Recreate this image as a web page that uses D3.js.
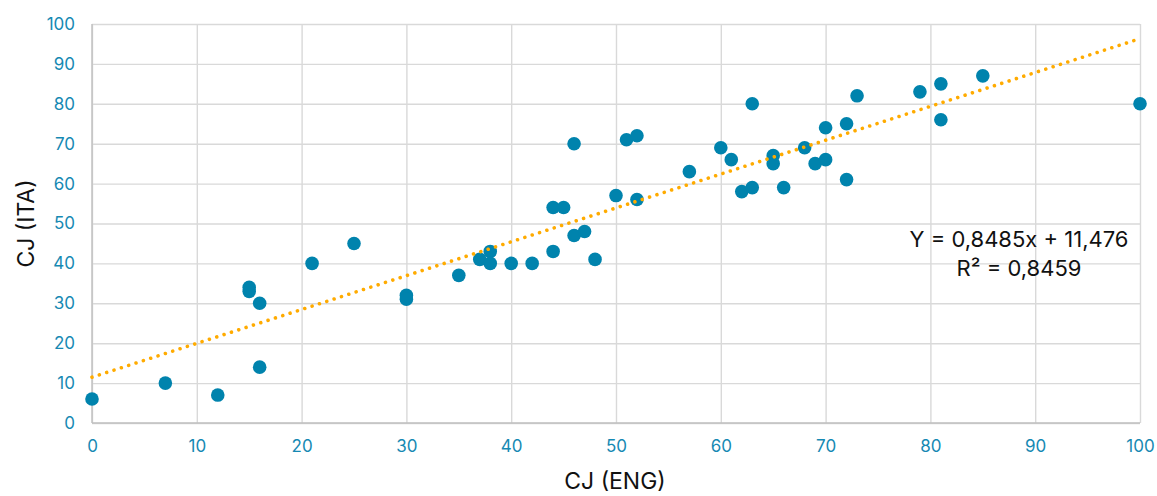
<!DOCTYPE html>
<html>
<head>
<meta charset="utf-8">
<script src="https://cdn.jsdelivr.net/npm/d3@7"></script>
<style>
  html, body { margin: 0; padding: 0; background: #fff; }
  svg { display: block; font-family: Inter, "Liberation Sans", sans-serif; }
</style>
</head>
<body>
<svg id="chart" width="1157" height="496"></svg>
<script>
// CJ scores: English (x) vs Italian (y)
const cjEng = [0, 7, 12, 15, 15, 16, 16, 21, 25, 30, 30, 35, 37, 38, 38, 40, 42, 44, 45, 44,
  46, 47, 48, 46, 50, 51, 52, 52, 57, 60, 61, 62, 63, 63, 65, 65, 66, 68, 69, 70,
  70, 72, 72, 73, 79, 81, 81, 85, 100];
const cjIta = [6, 10, 7, 34, 33, 30, 14, 40, 45, 32, 31, 37, 41, 43, 40, 40, 40, 54, 54, 43,
  47, 48, 41, 70, 57, 71, 72, 56, 63, 69, 66, 58, 59, 80, 67, 65, 59, 69, 65, 74,
  66, 75, 61, 82, 83, 85, 76, 87, 80];

// Linear trend line coefficients and fit quality
const trendSlope = 0.8485;
const trendIntercept = 11.476;
const trendLabel = "Y = 0,8485x + 11,476";
const r2Label = "R² = 0,8459";

const xTicks = [0, 10, 20, 30, 40, 50, 60, 70, 80, 90, 100];
const yTicks = [0, 10, 20, 30, 40, 50, 60, 70, 80, 90, 100];

const svg = d3.select("#chart");
const plotLeft = 92, plotRight = 1140, plotTop = 24, plotBottom = 423;

const x = d3.scaleLinear().domain([0, 100]).range([plotLeft, plotRight]);
const y = d3.scaleLinear().domain([0, 100]).range([plotBottom, plotTop]);

const tickColor = "#1689b3";
const gridColor = "#d9d9d9";
const fontStack = "Inter, 'Liberation Sans', sans-serif";

// Grid lines
svg.append("g")
  .attr("transform", `translate(0,${plotBottom})`)
  .call(d3.axisBottom(x).tickValues(xTicks).tickSize(-(plotBottom - plotTop)).tickFormat(""))
  .call(g => g.select(".domain").remove())
  .call(g => g.selectAll("line").attr("stroke", gridColor).attr("stroke-width", 1.4));

svg.append("g")
  .attr("transform", `translate(${plotLeft},0)`)
  .call(d3.axisLeft(y).tickValues(yTicks).tickSize(-(plotRight - plotLeft)).tickFormat(""))
  .call(g => g.select(".domain").remove())
  .call(g => g.selectAll("line").attr("stroke", gridColor).attr("stroke-width", 1.4));

// Axis baselines
svg.append("line")
  .attr("x1", x(0)).attr("x2", x(100)).attr("y1", y(0)).attr("y2", y(0))
  .attr("stroke", "#bfbfbf").attr("stroke-width", 1.4);
svg.append("line")
  .attr("x1", x(0)).attr("x2", x(0)).attr("y1", y(0)).attr("y2", y(100))
  .attr("stroke", "#bfbfbf").attr("stroke-width", 1.4);

// Tick labels
svg.append("g")
  .attr("transform", `translate(0,${plotBottom})`)
  .call(d3.axisBottom(x).tickValues(xTicks).tickSize(0).tickPadding(17))
  .call(g => g.select(".domain").remove())
  .call(g => g.selectAll("text")
    .attr("fill", tickColor).attr("font-size", 17).attr("font-family", fontStack));

svg.append("g")
  .attr("transform", `translate(${plotLeft},0)`)
  .call(d3.axisLeft(y).tickValues(yTicks).tickSize(0).tickPadding(17))
  .call(g => g.select(".domain").remove())
  .call(g => g.selectAll("text")
    .attr("fill", tickColor).attr("font-size", 17).attr("font-family", fontStack));

// Data points
const points = cjEng.map((v, i) => ({ eng: v, ita: cjIta[i] }));
svg.append("g")
  .selectAll("circle")
  .data(points)
  .join("circle")
  .attr("cx", d => x(d.eng))
  .attr("cy", d => y(d.ita))
  .attr("r", 6.8)
  .attr("fill", "#0083ad");

// Dotted trend line
svg.append("line")
  .attr("x1", x(0)).attr("y1", y(trendIntercept))
  .attr("x2", x(100)).attr("y2", y(trendSlope * 100 + trendIntercept))
  .attr("stroke", "#ffab00")
  .attr("stroke-width", 3.6)
  .attr("stroke-linecap", "round")
  .attr("stroke-dasharray", "0.01 7.7");

// Equation label
const eq = svg.append("text")
  .attr("text-anchor", "middle")
  .attr("font-size", 22).attr("fill", "#111");
eq.append("tspan").attr("x", 1019).attr("y", 247).text(trendLabel);
eq.append("tspan").attr("x", 1019).attr("y", 276).text(r2Label);

// Axis titles
svg.append("text")
  .attr("x", 615).attr("y", 489)
  .attr("text-anchor", "middle").attr("font-size", 23).attr("fill", "#111")
  .text("CJ (ENG)");

svg.append("text")
  .attr("transform", `translate(34,${(plotTop + plotBottom) / 2}) rotate(-90)`)
  .attr("text-anchor", "middle").attr("font-size", 23).attr("fill", "#111")
  .text("CJ (ITA)");
</script>
</body>
</html>
